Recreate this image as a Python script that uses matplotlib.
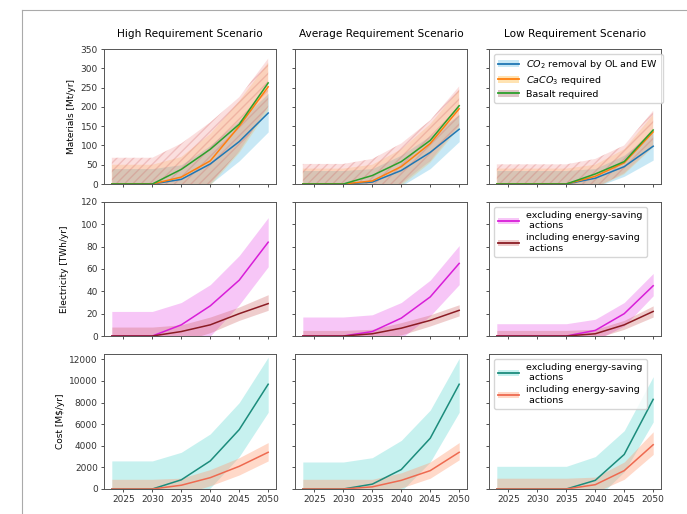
import numpy as np
import matplotlib.pyplot as plt
from matplotlib.patches import Patch
from matplotlib.lines import Line2D

# ------------------------------------------------------------
# Datos: años y escenarios
# ------------------------------------------------------------
years = [2023, 2030, 2035, 2040, 2045, 2050]
scenarios = ["High Requirement Scenario", "Average Requirement Scenario", "Low Requirement Scenario"]

# Materiales [Mt/yr]  (media, inferior, superior) por escenario
co2_mid = [[0, 0, 12, 52, 110, 184], [0, 0, 5, 35, 82, 142], [0, 0, 0, 15, 45, 98]]
co2_low = [[-40, -40, -35, 0, 60, 135], [-35, -35, -30, -5, 40, 110], [-35, -35, -30, -8, 20, 62]]
co2_up = [[40, 40, 50, 100, 165, 235], [35, 35, 40, 75, 125, 180], [35, 35, 35, 40, 75, 135]]

caco3_mid = [[0, 0, 18, 60, 150, 252], [0, 0, 8, 45, 105, 195], [0, 0, 0, 20, 55, 135]]
caco3_low = [[-50, -50, -45, -5, 80, 190], [-40, -40, -35, -5, 55, 145], [-40, -40, -40, -10, 25, 95]]
caco3_up = [[50, 50, 70, 130, 215, 315], [40, 40, 50, 90, 155, 245], [40, 40, 40, 50, 90, 180]]

basalt_mid = [[0, 0, 38, 90, 155, 262], [0, 0, 22, 58, 113, 203], [0, 0, 0, 26, 58, 140]]
basalt_low = [[-68, -68, -40, 0, 85, 200], [-52, -52, -35, 0, 60, 150], [-51, -51, -45, -10, 28, 98]]
basalt_up = [[68, 68, 105, 160, 225, 325], [52, 52, 65, 105, 165, 253], [51, 51, 51, 65, 100, 190]]

# Electricidad [TWh/yr]
elec_ex_mid = [[0, 0, 10, 27, 50, 84], [0, 0, 4, 16, 35, 65], [0, 0, 0, 5, 20, 45]]
elec_ex_low = [[-22, -22, -15, 0, 28, 62], [-17, -17, -12, -2, 18, 46], [-11, -11, -11, -4, 9, 36]]
elec_ex_up = [[22, 22, 30, 46, 72, 106], [17, 17, 19, 30, 50, 81], [11, 11, 11, 15, 30, 56]]

elec_in_mid = [[0, 0, 4, 10, 20, 29], [0, 0, 2, 7, 14, 23], [0, 0, 0, 2, 10, 22]]
elec_in_low = [[-8, -8, -5, 3, 14, 23], [-5, -5, -4, 1, 9, 18], [-5, -5, -5, -2, 6, 17]]
elec_in_up = [[8, 8, 10, 17, 26, 37], [5, 5, 6, 12, 19, 28], [5, 5, 5, 6, 14, 27]]

# Coste [M$/yr]
cost_ex_mid = [[0, 0, 850, 2600, 5500, 9700], [0, 0, 450, 1800, 4700, 9700], [0, 0, 0, 800, 3200, 8300]]
cost_ex_low = [[-2600, -2600, -1700, 100, 3000, 7100], [-2500, -2500, -2000, -200, 2500, 7100], [-2100, -2100, -2100, -1000, 1600, 6200]]
cost_ex_up = [[2600, 2600, 3400, 5100, 8000, 12200], [2500, 2500, 2900, 4500, 7300, 12100], [2100, 2100, 2100, 3000, 5400, 10400]]

cost_in_mid = [[0, 0, 350, 1050, 2100, 3400], [0, 0, 200, 800, 1700, 3400], [0, 0, 0, 400, 1700, 4100]]
cost_in_low = [[-900, -900, -500, 300, 1300, 2600], [-900, -900, -600, 100, 1000, 2700], [-1000, -1000, -1000, -300, 900, 3200]]
cost_in_up = [[900, 900, 1000, 1800, 2900, 4300], [900, 900, 900, 1500, 2500, 4300], [1000, 1000, 1000, 1100, 2500, 5300]]

# ------------------------------------------------------------
# Figura
# ------------------------------------------------------------
fig = plt.figure(figsize=(6.87, 5.14), dpi=100)
W, H = 687.0, 514.0
col_left = [104, 295, 489]
col_w = 172
row_top = [49, 202, 354]
row_bot = [184, 336, 489]

fs_tick = 6.5
fs_title = 7.6

c_teal, c_red = '#1c8c7c', '#ee6a50'
c_mag, c_brown = '#d81ed8', '#8b1c24'

axes = []
for r in range(3):
    fila = []
    for c in range(3):
        ax = fig.add_axes([col_left[c] / W, 1 - row_bot[r] / H, col_w / W, (row_bot[r] - row_top[r]) / H])
        for s in ax.spines.values():
            s.set_color('#555555')
            s.set_linewidth(0.7)
        ax.tick_params(labelsize=fs_tick, length=2.5, width=0.6, colors='#333333', pad=2)
        fila.append(ax)
    axes.append(fila)

# Fila 1: materiales
for c in range(3):
    ax = axes[0][c]
    ax.fill_between(years, co2_low[c], co2_up[c], color='skyblue', alpha=0.45, linewidth=0)
    ax.fill_between(years, caco3_low[c], caco3_up[c], facecolor='orange', alpha=0.18, linewidth=0)
    ax.fill_between(years, basalt_low[c], basalt_up[c], facecolor='lightcoral', edgecolor='indianred',
                    alpha=0.25, hatch='////', linewidth=0)
    ax.plot(years, co2_mid[c], color='tab:blue', lw=1.1)
    ax.plot(years, caco3_mid[c], color='tab:orange', lw=1.1)
    ax.plot(years, basalt_mid[c], color='tab:green', lw=1.1)
    ax.set_ylim(0, 350)
    ax.set_yticks(range(0, 351, 50))
    ax.set_title(scenarios[c], fontsize=fs_title, pad=9)

# Fila 2: electricidad
for c in range(3):
    ax = axes[1][c]
    ax.fill_between(years, elec_ex_low[c], elec_ex_up[c], color='violet', alpha=0.45, linewidth=0)
    ax.fill_between(years, elec_in_low[c], elec_in_up[c], color='indianred', alpha=0.3, linewidth=0)
    ax.plot(years, elec_ex_mid[c], color=c_mag, lw=1.1)
    ax.plot(years, elec_in_mid[c], color=c_brown, lw=1.1)
    ax.set_ylim(0, 120)
    ax.set_yticks(range(0, 121, 20))

# Fila 3: coste
for c in range(3):
    ax = axes[2][c]
    ax.fill_between(years, cost_ex_low[c], cost_ex_up[c], color='mediumturquoise', alpha=0.3, linewidth=0)
    ax.fill_between(years, cost_in_low[c], cost_in_up[c], color='lightsalmon', alpha=0.4, linewidth=0)
    ax.plot(years, cost_ex_mid[c], color=c_teal, lw=1.1)
    ax.plot(years, cost_in_mid[c], color=c_red, lw=1.1)
    ax.set_ylim(0, 12500)
    ax.set_yticks(range(0, 12001, 2000))

for r in range(3):
    for c in range(3):
        ax = axes[r][c]
        ax.set_xticks([2025, 2030, 2035, 2040, 2045, 2050])
        if r < 2:
            ax.set_xticklabels([])
        if c > 0:
            ax.set_yticklabels([])

axes[0][0].set_ylabel("Materials [Mt/yr]", fontsize=fs_tick, labelpad=3)
axes[1][0].set_ylabel("Electricity [TWh/yr]", fontsize=fs_tick, labelpad=8)
axes[2][0].set_ylabel("Cost [M$/yr]", fontsize=fs_tick, labelpad=3)

# Leyendas
leg_kw = dict(loc='upper left', fontsize=6.8, handlelength=2.2, borderpad=0.45,
              labelspacing=0.3, framealpha=0.8)

mat_handles = [
    (Patch(facecolor='skyblue', alpha=0.45), Line2D([], [], color='tab:blue', lw=1.3)),
    (Patch(facecolor='orange', alpha=0.3), Line2D([], [], color='tab:orange', lw=1.3)),
    (Patch(facecolor='rosybrown', alpha=0.5), Line2D([], [], color='tab:green', lw=1.3)),
]
axes[0][2].legend(mat_handles, ["$CO_2$ removal by OL and EW", "$CaCO_3$ required", "Basalt required"], **leg_kw)

ele_handles = [
    (Patch(facecolor='violet', alpha=0.45), Line2D([], [], color=c_mag, lw=1.3)),
    (Patch(facecolor='indianred', alpha=0.3), Line2D([], [], color=c_brown, lw=1.3)),
]
axes[1][2].legend(ele_handles, ["excluding energy-saving\n actions", "including energy-saving\n actions"], **leg_kw)

cost_handles = [
    (Patch(facecolor='mediumturquoise', alpha=0.3), Line2D([], [], color=c_teal, lw=1.3)),
    (Patch(facecolor='lightsalmon', alpha=0.4), Line2D([], [], color=c_red, lw=1.3)),
]
axes[2][2].legend(cost_handles, ["excluding energy-saving\n actions", "including energy-saving\n actions"], **leg_kw)

# Marco gris de la figura
fig.add_artist(Line2D([22 / W, 1], [1 - 10 / H, 1 - 10 / H], color='#aaaaaa', lw=0.8))
fig.add_artist(Line2D([22 / W, 22 / W], [0, 1 - 10 / H], color='#aaaaaa', lw=0.8))

fig.savefig("out.png", dpi=100)
